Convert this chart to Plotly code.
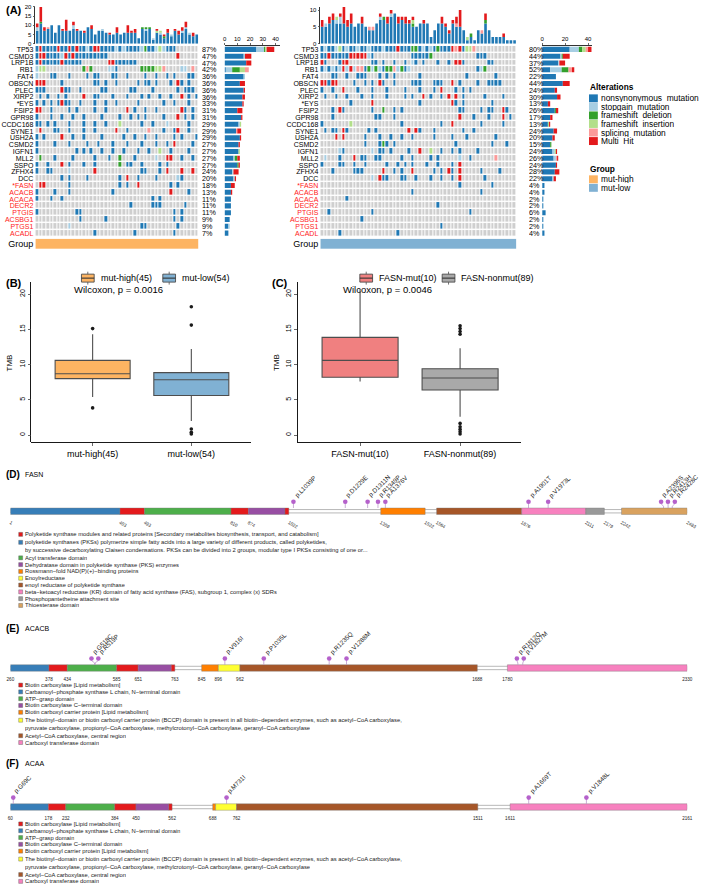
import plotly.graph_objects as go
import numpy as np

W, H = 709, 888
FONT = "Liberation Sans, Arial, Helvetica, sans-serif"

def px(x): return x / W
def py(y): return 1 - y / H
def xdom(a, b): return [a / W, b / W]
def ydom(top, bottom): return [1 - bottom / H, 1 - top / H]

# ---------------- Panel A data ----------------
genes = ["TP53", "CSMD3", "LRP1B", "RB1", "FAT4", "OBSCN", "PLEC", "XIRP2", "*EYS", "FSIP2",
         "GPR98", "CCDC168", "SYNE1", "USH2A", "CSMD2", "IGFN1", "MLL2", "SSPO", "ZFHX4", "DCC",
         "*FASN", "ACACB", "ACACA", "DECR2", "PTGIS", "ACSBG1", "PTGS1", "ACADL"]
red_genes = ["*FASN", "ACACB", "ACACA", "DECR2", "PTGIS", "ACSBG1", "PTGS1", "ACADL"]
alt_names = ["nonsynonymous_mutation", "stopgain_mutation", "frameshift_deletion",
             "frameshift_insertion", "splicing_mutation", "Multi_Hit"]
alt_codes = ["n", "s", "d", "i", "p", "m"]
alt_colors = ["#1F78B4", "#A6CEE3", "#33A02C", "#B2DF8A", "#FB9A99", "#E31A1C"]
none_color = "#CFCFCF"
group_names = ["mut-high", "mut-low"]
group_colors = ["#FDB462", "#80B1D3"]

# one string per gene, one character per sample ('.' = no alteration)
onco_high = [
    "nmnnnnmnnm nmnnsnmmnn nnsnsnnnns dnnsisnnn. .....",
    "nmmnnnnsmn mnnnnnnnnn .......... .........m .....",
    "nmnnnnnmnn nnn....... mmnnnnnn.. .......... .....",
    "sii....... ...dpd.... ssn......d dddiip.... ss.p.",
    "s...nn...n ....n.nn.. .nn..n.... n..n..n.n. ..nn.",
    "mmm....n.. ......nn.n ..n.....n. nn.n...n.m n.n..",
    "nnn....mnn ..n.....nn ......nn.. ..n......n .nnn.",
    ".n.n..n.n. ...m..nn.. .n...n...n .n..n..n.. m.n.n",
    "n.n.n.nmnn ..n...n..n ..n.....n. .....n..n. ..n..",
    "mm..n....n .n....n..n .....m.n.. n..n...... mn.n.",
    "n...n..n.. n..n....n. ...n..n.n. n....n...m .n.n.",
    "nn.n.n...n ...n..n..n ...i.....n ..n...s... ..n..",
    ".m...nn..n ...n..n... ..m..n.... .p...n..nm ..n..",
    "n.n....m.. n..n....n. ....n..n.. n..n....n. n...n",
    "n....n...n ....n..n.. .n...n...n ...n..n.m. ...n.",
    "n......... .n.n.n..n. .n..n...n. .n..i..n.. ..n..",
    ".d...n.... n.....n... n..d...n.. ...s..mm.. n..n.",
    "n..n...m.n ...n..n... ...d.nn..n ....n.n... .....",
    "n..nn....s ......m... .........n n...n.m... m..m.",
    ".......n.n ....n..... ...n.m..n. ...n.....s n....",
    ".mm......n .......... ...n.n..m. .......n.n .....",
    "n....n...n .......... .n........ .......m.. ..n..",
    "n...n..n.. .......... .......... ..n.n..... .....",
    ".......... .......... ......n... ..nnn..... .n...",
    "n......... .nn....... .......... ........n. n....",
    ".......... ..n......n .......... ........n. n....",
    ".........s .......... .........n n........n .....",
    ".......... ......n... .......n.. ........n. .....",
]
onco_low = [
    "nsnnsinsnn snnsnnnsnn nmnnnddnsn sndnnnmpmn iip....... ....",
    "nnmnnnnnmm mmmsn..... .....nnnnn d......... ...nnn.... ....",
    "mn...nmm.. ....nn.n.. n..n.sn.n. ..n..n.mmn ......nn.. ....",
    "nsnsnsmsms ppndsdsndd psdns..... .......... ...nsd.... ....",
    "...nn..n.. nnn...n.n. n......n.. .......... n.......n. ....",
    "mmnmm....n ..n.n.mn.. n....nnn.. .nnn..m.n. ...n..nnnn ....",
    "n..n..m... n...n...n. ...n...n.. .n.m...n.n .n........ ....",
    ".n..n..n.. .n..n...n. ...n.n..m. n..n.m.m.n .....n.... n...",
    "........n. ....m..... .......n.. ......mn.n .......n.. ....",
    "...n.mn... ....n..d.. n.n....... ........nn ....n.nn.. mn..",
    "...n...... .....nn... n......... ........m. ..n...n... m.n.",
    "n.......i. .......... ..n....... ...n..m... ....n..... n...",
    ".n.nn.mn.. ...n.n.... ....m.mn.. .n.......n ..n....... ....",
    "....m.m... ..n...n..n ..n..n.... .n....n... n.......n. ....",
    ".......... ..n...ndn. n......... .......n.. .......n.. .n..",
    ".....sn... ....s.nn.n ....n..m.. i..n..n.n. ...n...... ....",
    ".s...n...m .nn..nn... ..n..n.... n.n.....s. .n......p. ....",
    "n....nn..n ..n.....n. .n.n.n...n ..n...n.m. .......... ....",
    "...n.....n nn.....m.. n.n..m.... .n.n.mn.m. ....n....n ....",
    ".......... ....s.mnn. ..nn..n... n..n..n.m. .....n.... ....",
    ".......... .......... .......... ........n. .......n.. ....",
    ".......... .......... .....n.... .......... ....n..... ....",
    ".......n.. .......... .......... .......... .......... ....",
    ".......... .......... .......... ..n....... .......... ....",
    "..n....... ....n..... .......... .......... .n........ ....",
    ".......... .n........ .......... .......... .......... ....",
    ".......... .......... .......... ...n...... .......... ....",
    ".....n.... .......... .n........ .......... .......... ....",
]

# per-sample mutation burden (top bars), by class
tmb_high = {
    "n": [7, 11, 7, 8, 10, 6, 10, 7, 7, 7, 8, 7, 7, 6, 9, 8, 5, 7, 7, 6, 5, 5, 6, 5, 6, 6, 6, 6, 3, 8,
          7, 8, 2, 6, 5, 3, 6, 4, 7, 5, 6, 8, 5, 4, 5],
    "s": [2, 0, 0, 0, 0, 0, 0, 0, 0, 0, 2, 0, 0, 0, 0, 0, 0, 0, 1, 0, 0, 0, 0, 0, 0, 0, 0, 0, 0, 0,
          1, 0, 1, 0, 1, 0, 0, 1, 0, 0, 1, 1, 1, 0, 0],
    "d": [0, 1, 0, 0, 0, 0, 0, 0, 0, 0, 0, 0, 0, 0, 0, 0, 0, 0, 0, 0, 0, 0, 0, 0, 0, 0, 0, 0, 0, 1,
          1, 1, 0, 0, 0, 1, 0, 0, 0, 0, 0, 0, 0, 0, 0],
    "i": [0, 0, 0, 0, 0, 0, 0, 0, 0, 0, 0, 0, 0, 0, 0, 0, 0, 0, 0, 0, 0, 0, 0, 0, 0, 0, 0, 0, 0, 0,
          0, 0, 0, 1, 1, 0, 0, 0, 0, 0, 0, 0, 0, 0, 0],
    "p": [0, 0, 0, 1, 0, 0, 0, 0, 0, 0, 0, 0, 0, 0, 0, 0, 0, 0, 0, 0, 0, 0, 0, 0, 0, 0, 0, 0, 0, 0,
          0, 0, 0, 0, 0, 0, 0, 0, 0, 0, 0, 0, 0, 0, 0],
    "m": [2, 8, 2, 0, 0, 0, 0, 1, 6, 0, 2, 1, 0, 1, 0, 2, 0, 0, 0, 0, 1, 0, 3, 0, 0, 4, 1, 2, 0, 0,
          0, 0, 0, 1, 0, 1, 2, 0, 1, 2, 2, 3, 0, 2, 0],
}
tmb_low = {
    "n": [5, 5, 6, 7, 6, 6, 6, 5, 6, 5, 6, 6, 5, 4, 4, 6, 7, 7, 6, 8, 9, 6, 7, 6, 6, 5, 5, 6, 6, 6,
          2, 4, 6, 6, 5, 3, 6, 5, 5, 4, 1, 2, 1, 4, 3, 6, 4, 2, 2, 2, 2, 1, 1, 1],
    "s": [0, 1, 0, 0, 1, 2, 0, 0, 0, 0, 0, 0, 0, 0, 0, 0, 1, 0, 0, 1, 0, 0, 0, 0, 0, 0, 0, 0, 0, 0,
          0, 0, 0, 0, 0, 0, 0, 0, 0, 0, 0, 0, 0, 0, 0, 0, 0, 0, 0, 0, 0, 0, 0, 0],
    "d": [0, 0, 0, 0, 0, 0, 0, 0, 0, 0, 0, 0, 0, 0, 0, 0, 0, 1, 0, 0, 0, 0, 0, 0, 0, 1, 0, 0, 0, 0,
          0, 0, 0, 0, 0, 0, 0, 0, 0, 0, 0, 1, 0, 0, 0, 1, 0, 0, 0, 0, 0, 0, 0, 0],
    "i": [0, 0, 0, 0, 1, 0, 0, 0, 0, 0, 0, 0, 0, 0, 0, 0, 0, 0, 0, 0, 0, 0, 0, 0, 0, 1, 0, 0, 0, 0,
          0, 0, 0, 0, 0, 0, 0, 0, 0, 0, 1, 0, 0, 0, 0, 0, 0, 0, 0, 0, 0, 0, 0, 0],
    "p": [0, 0, 0, 0, 0, 0, 0, 0, 0, 0, 0, 0, 0, 1, 1, 0, 0, 0, 0, 0, 0, 0, 0, 0, 0, 0, 0, 0, 0, 0,
          0, 0, 0, 0, 0, 0, 0, 1, 0, 0, 0, 0, 0, 0, 1, 0, 0, 0, 0, 0, 0, 0, 0, 0],
    "m": [2, 0, 2, 2, 0, 1, 5, 2, 3, 0, 0, 2, 0, 0, 0, 0, 1, 0, 2, 1, 0, 2, 1, 2, 1, 1, 0, 0, 1, 0,
          0, 0, 0, 2, 1, 1, 1, 2, 5, 0, 0, 0, 0, 0, 0, 2, 0, 0, 0, 0, 1, 0, 0, 0],
}

# ---------------- Panel B / C data ----------------
b_cats = ["mut-high(45)", "mut-low(54)"]
b_q1 = [8.0, 5.6]
b_med = [8.7, 7.85]
b_q3 = [10.6, 8.85]
b_low = [5.4, 2.0]
b_up = [14.3, 12.2]
b_out = [[3.85, 15.1], [0.15, 0.4, 0.85, 15.6, 18.2]]
b_colors = ["#FDB462", "#80B1D3"]
b_p = "Wilcoxon, p = 0.0016"

c_cats = ["FASN-mut(10)", "FASN-nonmut(89)"]
c_q1 = [8.2, 6.4]
c_med = [10.6, 8.1]
c_q3 = [13.85, 9.4]
c_low = [7.6, 2.6]
c_up = [20.7, 12.3]
c_out = [[], [0.14, 0.46, 0.8, 1.17, 1.65, 14.3, 14.7, 15.1, 15.5]]
c_colors = ["#F08080", "#A9A9A9"]
c_p = "Wilcoxon, p = 0.0046"

# ---------------- Panel D / E / F data ----------------
dcol = {"red": "#E41A1C", "blue": "#377EB8", "green": "#4DAF4A", "purple": "#984EA3",
        "orange": "#FF7F00", "yellow": "#FFFF33", "brown": "#A65628", "pink": "#F781BF",
        "grey": "#999999", "tan": "#D9A25F"}

fasn_range = [1, 2483]
fasn_dom_start = [1, 403, 493, 810, 874, 1008, 1359, 1564, 1876, 2111, 2242]
fasn_dom_end = [403, 493, 810, 874, 1008, 1022, 1522, 1876, 2111, 2179, 2483]
fasn_dom_col = ["blue", "red", "green", "red", "purple", "red", "orange", "brown", "pink", "grey", "tan"]
fasn_ticks = [1, 403, 493, 810, 874, 1022, 1359, 1522, 1564, 1876, 2111, 2179, 2242, 2483]
fasn_mut_pos = [1039, 1229, 1311, 1349, 1376, 1901, 1973, 2396, 2413, 2428]
fasn_mut_lab = ["p.L1039P", "p.D1229E", "p.D1311N", "p.R1349P", "p.A1376V", "p.A1901T",
                "p.V1973L", "p.A2396S", "p.R2413H", "p.R2428C"]
fasn_leg_lab = [
    "Polyketide synthase modules and related proteins [Secondary metabolites biosynthesis, transport, and catabolism]",
    "polyketide synthases (PKSs) polymerize simple fatty acids into a large variety of different products, called polyketides,\n"
    "by successive decarboxylating Claisen condensations. PKSs can be divided into 2 groups, modular type I PKSs consisting of one or...",
    "Acyl transferase domain",
    "Dehydratase domain in polyketide synthase (PKS) enzymes",
    "Rossmann−fold NAD(P)(+)−binding proteins",
    "Enoylreductase",
    "enoyl reductase of polyketide synthase",
    "beta−ketoacyl reductase (KR) domain of fatty acid synthase (FAS), subgroup 1, complex (x) SDRs",
    "Phosphopantetheine attachment site",
    "Thioesterase domain",
]
fasn_leg_col = ["red", "blue", "green", "purple", "orange", "yellow", "brown", "pink", "grey", "tan"]

acc_leg_lab = [
    "Biotin carboxylase [Lipid metabolism]",
    "Carbamoyl−phosphate synthase L chain, N−terminal domain",
    "ATP−grasp domain",
    "Biotin carboxylase C−terminal domain",
    "Biotin carboxyl carrier protein [Lipid metabolism]",
    "The biotinyl−domain or biotin carboxyl carrier protein (BCCP) domain is present in all biotin−dependent enzymes, such as acetyl−CoA carboxylase,\n"
    "pyruvate carboxylase, propionyl−CoA carboxylase, methylcrotonyl−CoA carboxylase, geranyl−CoA carboxylase",
    "Acetyl−CoA carboxylase, central region",
    "Carboxyl transferase domain",
]
acc_leg_col = ["red", "blue", "green", "purple", "orange", "yellow", "brown", "pink"]

acacb_range = [260, 2330]
acacb_dom_start = [260, 378, 434, 585, 651, 752, 845, 896, 962, 1780]
acacb_dom_end = [378, 434, 585, 651, 752, 763, 896, 962, 1688, 2330]
acacb_dom_col = ["blue", "red", "green", "red", "purple", "red", "orange", "yellow", "brown", "pink"]
acacb_ticks = [260, 378, 434, 585, 651, 763, 845, 896, 962, 1688, 1780, 2330]
acacb_mut_pos = [518, 519, 916, 1035, 1235, 1288, 1812, 1827]
acacb_mut_lab = ["p.G518C", "p.R519P", "p.V916I", "p.P1035L", "p.R1235Q", "p.V1288M", "p.R1812Q", "p.V1827M"]

acaa_range = [60, 2161]
acaa_dom_start = [60, 178, 232, 384, 450, 552, 688, 697, 762, 1611]
acaa_dom_end = [178, 232, 384, 450, 552, 562, 697, 762, 1511, 2161]
acaa_dom_col = ["blue", "red", "green", "red", "purple", "red", "orange", "yellow", "brown", "pink"]
acaa_ticks = [60, 178, 232, 384, 450, 562, 688, 762, 1511, 1611, 2161]
acaa_mut_pos = [69, 731, 1669, 1848]
acaa_mut_lab = ["p.G69C", "p.M731I", "p.A1669T", "p.V1848L"]

# ====================================================================
fig = go.Figure()
layout_axes = {}
annotations = []
shapes = []


def axname(kind, i):
    return kind + ("" if i == 1 else str(i))


def setup(i, xd, yd, xkw=None, ykw=None):
    xk = dict(domain=xd, anchor=axname("y", i), showgrid=False, zeroline=False,
              showticklabels=False, ticks="", showline=False, fixedrange=True)
    yk = dict(domain=yd, anchor=axname("x", i), showgrid=False, zeroline=False,
              showticklabels=False, ticks="", showline=False, fixedrange=True)
    if xkw:
        xk.update(xkw)
    if ykw:
        yk.update(ykw)
    layout_axes[axname("xaxis", i)] = xk
    layout_axes[axname("yaxis", i)] = yk
    return axname("x", i), axname("y", i)


def text(x, y, s, size, xanchor="left", yanchor="middle", bold=False, color="black",
         angle=0, xref="paper", yref="paper", **kw):
    if bold:
        s = "<b>" + s + "</b>"
    annotations.append(dict(x=x, y=y, xref=xref, yref=yref, text=s, showarrow=False,
                            xanchor=xanchor, yanchor=yanchor, textangle=angle, borderpad=0,
                            font=dict(size=size, color=color, family=FONT), **kw))


code_val = {".": 0, "n": 1, "s": 2, "d": 3, "i": 4, "p": 5, "m": 6}
cs = []
for k, c in enumerate([none_color] + alt_colors):
    cs.append([k / 7, c])
    cs.append([(k + 1) / 7, c])

GRID_TOP, GRID_BOT = 43.3, 235.1
NG = len(genes)


def gene_tick(g):
    if g in red_genes:
        return '<span style="color:#FF1A1A">' + g + '</span>'
    return g


def oncoprint(ids, rows_raw, tmb, N, x0, x1, bx0, bx1, bmax, bticks, tmax, tticks,
              gcolor, pct_x):
    rows = [r.replace(" ", "").ljust(N, ".")[:N] for r in rows_raw]
    i_top, i_grid, i_bar, i_grp = ids
    xs = list(range(N))
    # top bars
    xa, ya = setup(i_top, xdom(x0, x1), ydom(4, 41),
                   xkw=dict(range=[-0.5, N - 0.5]),
                   ykw=dict(range=[0, tmax], showline=True, linecolor="black", linewidth=0.8,
                            ticks="outside", ticklen=2, tickwidth=0.8, tickvals=tticks,
                            showticklabels=True, tickfont=dict(size=6, family=FONT)))
    base = np.zeros(N)
    for k, code in enumerate(alt_codes):
        vals = np.array(tmb[code], dtype=float)
        fig.add_trace(go.Bar(x=xs, y=vals, base=base.copy(), width=0.72,
                             marker=dict(color=alt_colors[k], line=dict(width=0)),
                             xaxis=xa, yaxis=ya, hoverinfo="skip"))
        base += vals
    # grid
    z = [[code_val[c] for c in r] for r in rows]
    xa, ya = setup(i_grid, xdom(x0, x1), ydom(GRID_TOP, GRID_BOT),
                   xkw=dict(range=[-0.5, N - 0.5]),
                   ykw=dict(range=[NG - 0.5, -0.5], tickvals=list(range(NG)),
                            ticktext=[gene_tick(g) for g in genes], showticklabels=True,
                            tickfont=dict(size=7, family=FONT), ticklabelstandoff=1))
    fig.add_trace(go.Heatmap(z=z, x=xs, y=list(range(NG)), colorscale=cs, zmin=-0.5, zmax=6.5,
                             showscale=False, xgap=1, ygap=1.4, xaxis=xa, yaxis=ya,
                             hoverinfo="skip"))
    for r, row in enumerate(rows):
        cnt = sum(1 for c in row if c != ".")
        text(px(pct_x), r, f"{round(100 * cnt / N)}%", 7.2, yref=ya, height=6.6)
    # gene bars
    xa, ya = setup(i_bar, xdom(bx0, bx1), ydom(GRID_TOP, GRID_BOT),
                   xkw=dict(range=[0, bmax], side="top", showline=True, linecolor="black",
                            linewidth=0.8, ticks="outside", ticklen=2, tickwidth=0.8,
                            tickvals=bticks, showticklabels=True,
                            tickfont=dict(size=6, family=FONT)),
                   ykw=dict(range=[NG - 0.5, -0.5]))
    base = np.zeros(NG)
    for k, code in enumerate(alt_codes):
        vals = np.array([row.count(code) for row in rows], dtype=float)
        fig.add_trace(go.Bar(x=vals, y=list(range(NG)), base=base.copy(), orientation="h",
                             width=0.75, marker=dict(color=alt_colors[k], line=dict(width=0)),
                             xaxis=xa, yaxis=ya, hoverinfo="skip"))
        base += vals
    # group bar
    xa, ya = setup(i_grp, xdom(x0, x1), ydom(237.3, 247.7),
                   xkw=dict(range=[-0.5, N - 0.5]),
                   ykw=dict(range=[-0.5, 0.5], tickvals=[0], ticktext=["Group"],
                            showticklabels=True, tickfont=dict(size=9, family=FONT),
                            ticklabelstandoff=1))
    fig.add_trace(go.Heatmap(z=[[1] * N], x=xs, y=[0], colorscale=[[0, gcolor], [1, gcolor]],
                             showscale=False, xaxis=xa, yaxis=ya, hoverinfo="skip"))


oncoprint((1, 2, 3, 4), onco_high, tmb_high, 45, 32.0, 198.5, 225, 282, 57 / 1.3,
          [0, 10, 20, 30, 40], 20, [0, 5, 10, 15, 20], group_colors[0], 200.5)
oncoprint((5, 6, 7, 8), onco_low, tmb_low, 54, 322.7, 522.7, 549, 600, 51 / 1.17,
          [0, 20, 40], 10.9, [0, 5, 10], group_colors[1], 534.5)

text(px(1), py(7), "(A)", 11, bold=True)

# Alterations legend
text(px(596.5), py(85), "Alterations", 8.3, bold=True)
for k, (nm, col) in enumerate(zip(alt_names, alt_colors)):
    yc = 96 + 8.6 * k
    shapes.append(dict(type="rect", xref="paper", yref="paper", x0=px(596.8), x1=px(605.8),
                       y0=py(yc + 4), y1=py(yc - 4), fillcolor=col, line=dict(width=0)))
    text(px(608), py(yc), nm, 8.4, height=8)
text(px(596.5), py(167), "Group", 8.3, bold=True)
for k, (nm, col) in enumerate(zip(group_names, group_colors)):
    yc = 177.5 + 8.6 * k
    shapes.append(dict(type="rect", xref="paper", yref="paper", x0=px(596.8), x1=px(605.8),
                       y0=py(yc + 4), y1=py(yc - 4), fillcolor=col, line=dict(width=0)))
    text(px(608), py(yc), nm, 8.4, height=8)

# ---------------- Panels B & C ----------------
BOX_TOP, BOX_BOT = 281, 442
YR = [-0.99, 21.7]


def boxpanel(i, x0, x1, cats, q1, med, q3, lo, up, outs, cols, ptxt, ptx, letter, letx,
             tmbx, legx):
    xa, ya = setup(i, xdom(x0, x1), ydom(BOX_TOP, BOX_BOT),
                   xkw=dict(type="category", categoryarray=cats, categoryorder="array",
                            range=[-0.62, 1.605], showline=True, linecolor="black",
                            linewidth=0.9, ticks="outside", ticklen=3, tickwidth=0.8,
                            showticklabels=True, tickfont=dict(size=9, family=FONT)),
                   ykw=dict(range=YR, showline=True, linecolor="black", linewidth=0.9,
                            ticks="outside", ticklen=3, tickwidth=0.8,
                            tickvals=[0, 5, 10, 15, 20], showticklabels=True,
                            tickangle=-90, tickfont=dict(size=7, family=FONT)))
    for k in range(2):
        fig.add_trace(go.Box(x=[cats[k]], q1=[q1[k]], median=[med[k]], q3=[q3[k]],
                             lowerfence=[lo[k]], upperfence=[up[k]], fillcolor=cols[k],
                             line=dict(color="#4D4D4D", width=1.1), width=0.76,
                             whiskerwidth=0, boxpoints=False, xaxis=xa, yaxis=ya,
                             hoverinfo="skip"))
        if outs[k]:
            fig.add_trace(go.Scatter(x=[cats[k]] * len(outs[k]), y=outs[k], mode="markers",
                                     marker=dict(size=3.6, color="#1A1A1A"),
                                     xaxis=xa, yaxis=ya, hoverinfo="skip", cliponaxis=False))
    text(px(ptx), py(288.5), ptxt, 9.5, xanchor="center")
    text(px(letx), py(282), letter, 11, bold=True)
    text(px(tmbx), py(362), "TMB", 8, xanchor="center", angle=-90)
    # legend keys
    for k in range(2):
        kx0 = legx[k]
        shapes.append(dict(type="rect", xref="paper", yref="paper", x0=px(kx0), x1=px(kx0 + 13),
                           y0=py(281), y1=py(273), fillcolor=cols[k],
                           line=dict(color="#4D4D4D", width=0.9)))
        shapes.append(dict(type="line", xref="paper", yref="paper", x0=px(kx0), x1=px(kx0 + 13),
                           y0=py(277), y1=py(277), line=dict(color="#333", width=1.1)))
        shapes.append(dict(type="line", xref="paper", yref="paper", x0=px(kx0 + 6.5),
                           x1=px(kx0 + 6.5), y0=py(273), y1=py(270.5),
                           line=dict(color="#4D4D4D", width=0.8)))
        shapes.append(dict(type="line", xref="paper", yref="paper", x0=px(kx0 + 6.5),
                           x1=px(kx0 + 6.5), y0=py(281), y1=py(283.5),
                           line=dict(color="#4D4D4D", width=0.8)))
        text(px(kx0 + 18.5), py(277), cats[k], 9)


boxpanel(9, 28, 252, b_cats, b_q1, b_med, b_q3, b_low, b_up, b_out, b_colors, b_p, 116.5,
         "(B)", 1.5, 6, [79, 162])
boxpanel(10, 300, 527, c_cats, c_q1, c_med, c_q3, c_low, c_up, c_out, c_colors, c_p, 391.5,
         "(C)", 272.5, 278, [363, 447])

# ---------------- Panels D, E, F ----------------
PX0, PX1 = 6.5, 697
HEAD_Y = 9.5
BAR_H = 6.5
MUT_COL = "#B561CB"


def spread(pos, min_gap):
    disp = [float(p) for p in pos]
    for _ in range(200):
        moved = False
        for j in range(1, len(disp)):
            d = disp[j] - disp[j - 1]
            if d < min_gap - 1e-9:
                sh = (min_gap - d) / 2
                disp[j - 1] -= sh
                disp[j] += sh
                moved = True
        if not moved:
            break
    return disp


def protein(i, bc, rng, starts, ends, colkeys, ticks, mpos, mlab, letter, gene, title_y,
            leg_lab, leg_col, leg_y0):
    xa, ya = setup(i, xdom(PX0, PX1), ydom(bc - 12, bc + 6),
                   xkw=dict(range=rng, tickvals=ticks, ticktext=[str(t) for t in ticks],
                            showticklabels=True, tickfont=dict(size=4.6, family=FONT, color="#222"),
                            ticklabelstandoff=1),
                   ykw=dict(range=[-6, 12]))
    # backbone
    fig.add_trace(go.Bar(x=[rng[1] - rng[0]], y=[0], base=[rng[0]], orientation="h", width=3.4,
                         marker=dict(color="white", line=dict(color="#9A9A9A", width=0.7)),
                         xaxis=xa, yaxis=ya, hoverinfo="skip"))
    fig.add_trace(go.Bar(x=[e - s for s, e in zip(starts, ends)], y=[0] * len(starts),
                         base=starts, orientation="h", width=BAR_H,
                         marker=dict(color=[dcol[c] for c in colkeys],
                                     line=dict(color="#7A7A7A", width=0.4)),
                         xaxis=xa, yaxis=ya, hoverinfo="skip"))
    scale = (rng[1] - rng[0]) / (PX1 - PX0)
    disp = spread(mpos, 7.0 * scale)
    sx, sy = [], []
    for p, d in zip(mpos, disp):
        sx += [p, p, d, d, None]
        sy += [BAR_H / 2, 5.0, 7.5, HEAD_Y, None]
    fig.add_trace(go.Scatter(x=sx, y=sy, mode="lines", line=dict(color="#B38AC4", width=0.7),
                             xaxis=xa, yaxis=ya, hoverinfo="skip", cliponaxis=False))
    fig.add_trace(go.Scatter(x=disp, y=[HEAD_Y] * len(disp), mode="markers",
                             marker=dict(size=4.6, color=MUT_COL, line=dict(width=0)),
                             xaxis=xa, yaxis=ya, hoverinfo="skip", cliponaxis=False))
    for d, lab in zip(disp, mlab):
        text(d, HEAD_Y + 1.2, lab, 6.3, xanchor="left", yanchor="bottom", angle=-45,
             xref=xa, yref=ya, color="#222", xshift=-2)
    text(px(1.5), py(title_y), letter, 10, bold=True)
    text(px(20), py(title_y), gene, 7)
    # legend
    y = leg_y0
    prev_multi = False
    for k, (lab, ck) in enumerate(zip(leg_lab, leg_col)):
        lines = lab.split("\n")
        multi = len(lines) > 1
        if k > 0:
            y += 8.0 if (multi or prev_multi) else 6.85
        shapes.append(dict(type="rect", xref="paper", yref="paper", x0=px(15), x1=px(19),
                           y0=py(y + 2), y1=py(y - 2), fillcolor=dcol[ck],
                           line=dict(color="#555", width=0.4)))
        for j, ln in enumerate(lines):
            if j > 0:
                y += 7.6
            text(px(20.8), py(y), ln, 5.8, color="#1A1A1A", height=6.4)
        prev_multi = multi


protein(11, 511.7, fasn_range, fasn_dom_start, fasn_dom_end, fasn_dom_col, fasn_ticks,
        fasn_mut_pos, fasn_mut_lab, "(D)", "FASN", 475, fasn_leg_lab, fasn_leg_col, 535)
protein(12, 669.5, acacb_range, acacb_dom_start, acacb_dom_end, acacb_dom_col, acacb_ticks,
        acacb_mut_pos, acacb_mut_lab, "(E)", "ACACB", 630, acc_leg_lab, acc_leg_col, 686.7)
protein(13, 809.5, acaa_range, acaa_dom_start, acaa_dom_end, acaa_dom_col, acaa_ticks,
        acaa_mut_pos, acaa_mut_lab, "(F)", "ACAA", 766, acc_leg_lab, acc_leg_col, 826.5)

fig.update_layout(width=W, height=H, margin=dict(l=0, r=0, t=0, b=0), barmode="overlay",
                  boxmode="overlay", showlegend=False, plot_bgcolor="white",
                  paper_bgcolor="white", font=dict(family=FONT, color="black"),
                  annotations=annotations, shapes=shapes, **layout_axes)
fig.write_html("out.html",
               config={"displayModeBar": False, "staticPlot": True},
               post_script="document.body.style.margin='0px';document.body.style.padding='0px';"
                           "document.body.style.overflow='hidden';")
